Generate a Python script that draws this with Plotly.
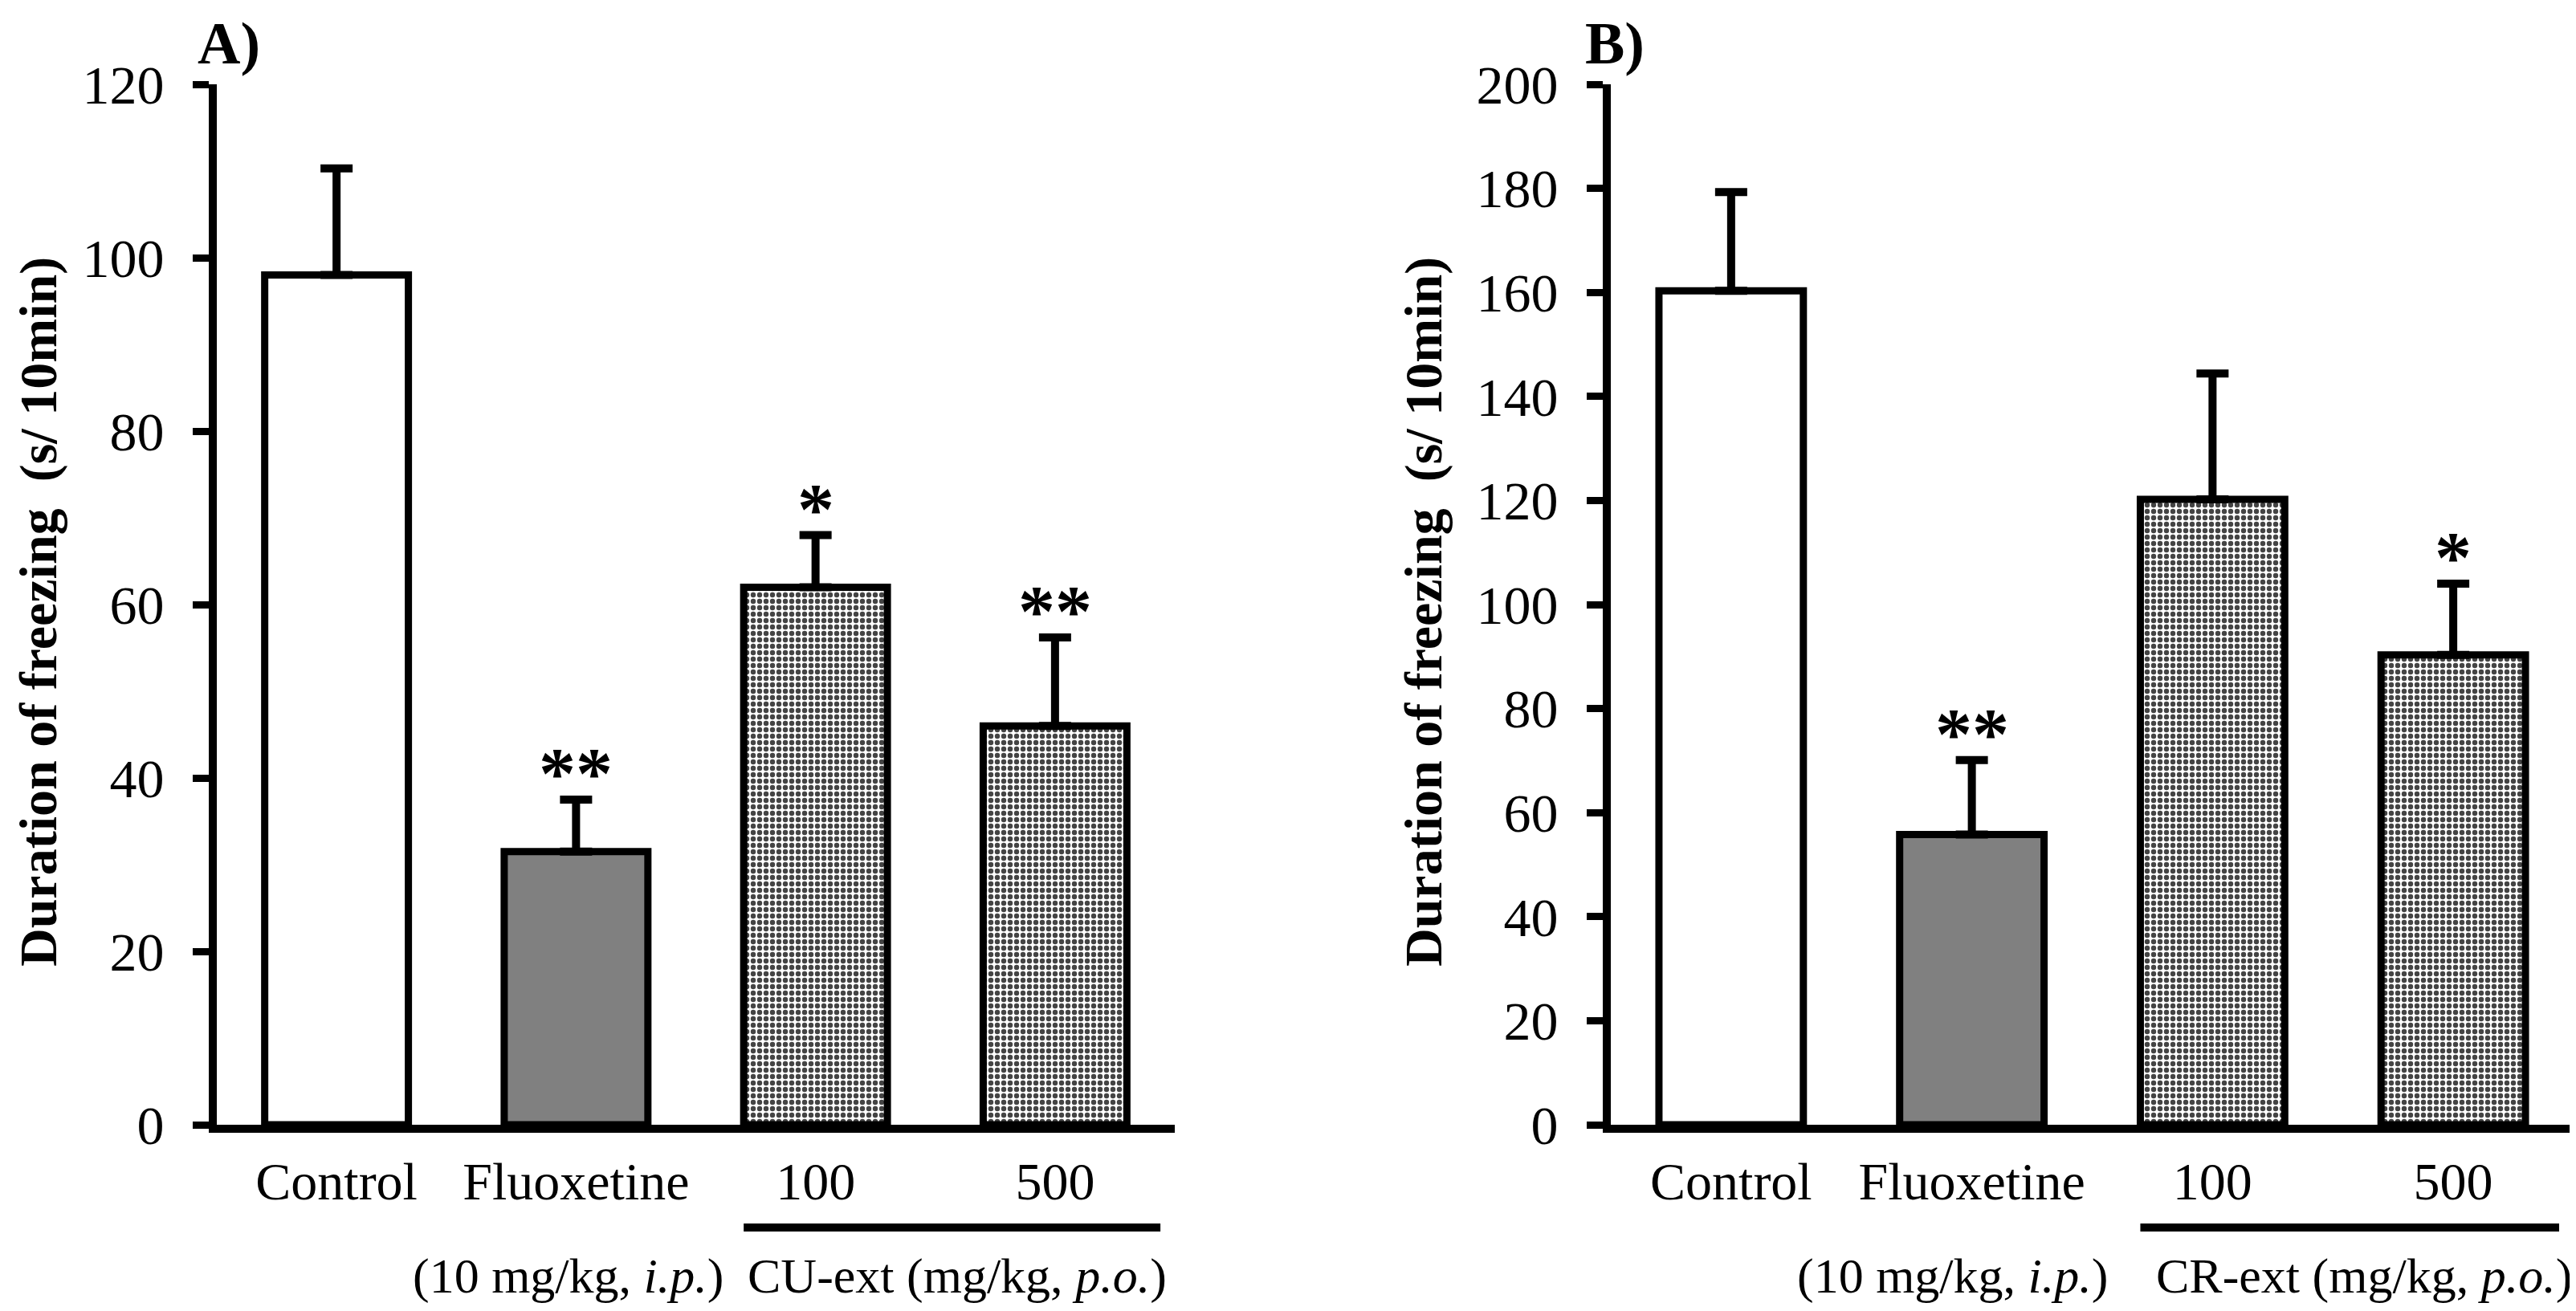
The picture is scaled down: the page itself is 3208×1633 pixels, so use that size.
import plotly.graph_objects as go

# data (mean + SEM, s / 10 min)
groups = ["Control", "Fluoxetine", "100", "500"]
mean_a = [98.0, 31.5, 62.0, 46.0]
sem_a = [12.3, 6.0, 6.0, 10.2]
stars_a = ["", "**", "*", "**"]
mean_b = [160.3, 55.8, 120.2, 90.3]
sem_b = [19.0, 14.3, 24.2, 13.7]
stars_b = ["", "**", "", "*"]
yticks_a = [0, 20, 40, 60, 80, 100, 120]
yticks_b = [0, 20, 40, 60, 80, 100, 120, 140, 160, 180, 200]

W, H = 3208, 1633
FONT = "Liberation Serif"
fills = ["white", "#808080", "white", "white"]
patterns = ["", "", ".", "."]


def px_x(p):
    return p / W


def px_y(p):
    return (H - p) / H


fig = go.Figure()

for i, (mean, sem) in enumerate([(mean_a, sem_a), (mean_b, sem_b)]):
    n = "" if i == 0 else "2"
    fig.add_trace(go.Bar(
        x=list(range(len(groups))), y=mean,
        xaxis="x" + n, yaxis="y" + n,
        width=0.6,
        marker=dict(color=fills, line=dict(color="black", width=9),
                    pattern=dict(shape=patterns, fgcolor="#333333", bgcolor="white",
                                 fgopacity=1, size=8, solidity=0.5,
                                 fillmode="overlay")),
        error_y=dict(type="data", symmetric=False, array=sem, arrayminus=[0] * 4,
                     color="black", thickness=10, width=20),
        showlegend=False,
    ))

axis_font = dict(family=FONT, size=68, color="black")
common_x = dict(range=[-0.5, 3.5], showline=True, linewidth=10, linecolor="black",
                showgrid=False, zeroline=False, ticks="", automargin=False,
                tickvals=list(range(len(groups))), ticktext=groups,
                tickfont=dict(family=FONT, size=66, color="black"),
                ticklabelstandoff=4, fixedrange=True)
common_y = dict(showline=True, linewidth=10, linecolor="black", showgrid=False,
                zeroline=False, ticks="outside", ticklen=20, tickwidth=9,
                tickcolor="black", tickfont=axis_font, ticklabelstandoff=22,
                automargin=False, domain=[px_y(1393), px_y(97)])

fig.update_layout(
    width=W, height=H,
    margin=dict(l=0, r=0, t=0, b=0, autoexpand=False),
    paper_bgcolor="white", plot_bgcolor="white",
    xaxis=dict(common_x, domain=[px_x(262), px_x(1455)], anchor="y"),
    yaxis=dict(common_y, range=[0, 120], tickvals=yticks_a, anchor="x"),
    xaxis2=dict(common_x, domain=[px_x(1998), px_x(3197)], anchor="y2"),
    yaxis2=dict(common_y, range=[0, 200], tickvals=yticks_b, anchor="x2"),
)

ann = []
title = "<b>Duration of freezing  (s/ 10min)</b>"
for xc in [40, 1765]:
    ann.append(dict(x=px_x(xc), y=px_y(754), xref="paper", yref="paper", text=title,
                    textangle=-90, showarrow=False, xanchor="center", yanchor="middle",
                    font=dict(family=FONT, size=66, color="black")))

for xl, lab in [(236, "A)"), (1964, "B)")]:
    ann.append(dict(x=px_x(xl), y=px_y(46), xref="paper", yref="paper", xanchor="left",
                    yanchor="middle", text="<b>" + lab + "</b>", showarrow=False,
                    font=dict(family=FONT, size=74, color="black")))

for n, mean, sem, stars in [("", mean_a, sem_a, stars_a), ("2", mean_b, sem_b, stars_b)]:
    for k, s in enumerate(stars):
        if s:
            ann.append(dict(x=k, y=mean[k] + sem[k], xref="x" + n, yref="y" + n,
                            text="<b>" + s + "</b>", showarrow=False, xanchor="center",
                            yanchor="bottom", yshift=-20,
                            font=dict(family=FONT, size=92, color="black")))

sub = [("", 0.97, "(10 mg/kg, <i>i.p.</i>)"), ("", 2.59, "CU-ext (mg/kg, <i>p.o.</i>)"),
       ("2", 0.92, "(10 mg/kg, <i>i.p.</i>)"), ("2", 2.63, "CR-ext (mg/kg, <i>p.o.</i>)")]
for n, xv, t in sub:
    ann.append(dict(x=xv, y=px_y(1581), xref="x" + n, yref="paper", text=t,
                    showarrow=False, xanchor="center", yanchor="middle",
                    font=dict(family=FONT, size=62, color="black")))

fig.update_layout(annotations=ann)

for n in ["", "2"]:
    fig.add_shape(type="line", xref="x" + n, yref="paper", x0=1.7, x1=3.44,
                  y0=px_y(1521), y1=px_y(1521), line=dict(color="black", width=10))

fig.write_html("out.html")
